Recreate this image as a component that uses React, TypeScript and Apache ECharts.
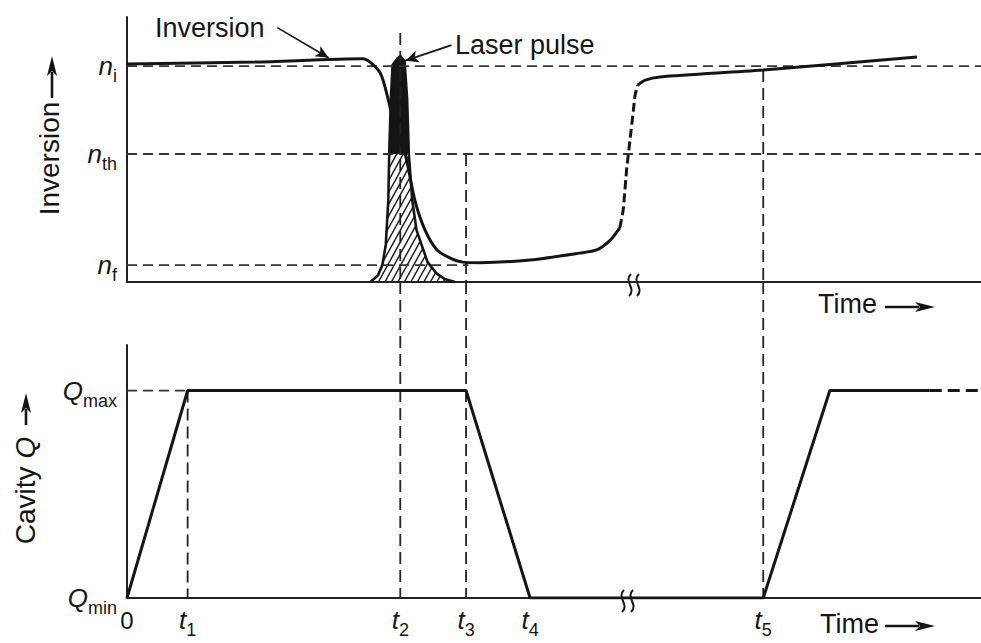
import React, { useEffect, useRef } from "react";
import * as echarts from "echarts";

// ---------------- data ----------------
// time in arbitrary units (0..100), levels in arbitrary units (0..100)
const timeTicks = [0, 7.1, 32.0, 39.7, 47.2, 74.5];
const timeTickLabels = ["0", "t|1", "t|2", "t|3", "t|4", "t|5"];

const nI = 81.5;
const nTh = 48.3;
const nF = 6.4;
const inversionLevels = [nI, nTh, nF];
const inversionLevelLabels = ["n|i", "n|th", "n|f"];

const qMin = 0;
const qMax = 82;
const qLevels = [qMin, qMax];
const qLevelLabels = ["Q|min", "Q|max"];

// inversion curve: solid part before the break
const invX1 = [0, 15, 27.6, 29.6, 30.6, 31.4, 32.6, 33.7, 34.9, 36.3, 37.8, 39.3, 41.3, 47.2, 53.0, 55.0, 56.6, 57.7];
const invY1 = [82.3, 83.0, 84.2, 79.2, 68.7, 57.4, 47.9, 30.9, 19.6, 12.1, 9.1, 7.5, 7.3, 8.3, 10.9, 12.1, 15.8, 20.4];
// inversion curve: dashed steep recovery
const invX2 = [57.7, 58.1, 58.5, 58.9, 59.3, 59.5, 59.8];
const invY2 = [20.4, 27.2, 42.3, 53.6, 64.9, 70.6, 74.3];
// inversion curve: solid after recovery
const invX3 = [59.8, 60.7, 62.4, 74.5, 92.5];
const invY3 = [74.3, 76.2, 77.4, 80.0, 84.9];

// laser pulse
const pulseX = [28.5, 29.4, 29.9, 30.3, 30.6, 30.7, 30.9, 31.1, 31.7, 32.0, 32.5, 32.8, 33.0, 33.4, 33.9, 34.7, 35.2, 36.2, 37.2, 38.4];
const pulseY = [0, 2.6, 6.4, 14.0, 30.9, 48.3, 69.1, 81.9, 84.5, 85.3, 83.4, 69.1, 48.3, 30.9, 19.6, 12.1, 7.5, 3.4, 1.1, 0];

// cavity Q
const qX = [0, 7.1, 39.7, 47.2, 74.5, 82.3, 94.0];
const qY = [0, 82, 82, 0, 0, 82, 82];
const qDashX = [94.0, 100];
const qDashY = [82, 82];

// vertical guides: time, upper start in the top panel (NaN = none)
const guideX = [7.1, 32.0, 39.7, 74.5];
const guideTopStart = [NaN, 94, nTh, 80];
const guideBottomStart = [qMax, NaN, NaN, NaN]; // NaN = runs up through the gap

// ---------------- layout ----------------
const W = 981;
const H = 643;
const G1 = { left: 127, top: 17, width: 854, height: 265 };
const G2 = { left: 127, top: 345, width: 854, height: 253 };
const X_MAX = 100;
const Y_MAX = 100;
const FONT = "'Liberation Sans', Arial, Helvetica, sans-serif";
const INK = "#151515";

const gapTopY2 = Y_MAX * (1 + (G2.top - (G1.top + G1.height)) / G2.height);

const zipPts = (xs: number[], ys: number[]) => xs.map((x, i) => [x, ys[i]]);

const richLabel = {
  b: { fontFamily: FONT, fontSize: 26, fontStyle: "italic", color: INK, verticalAlign: "middle", lineHeight: 38 },
  s: { fontFamily: FONT, fontSize: 18, color: INK, verticalAlign: "bottom", lineHeight: 38 },
  z: { fontFamily: FONT, fontSize: 24, color: INK, verticalAlign: "middle", lineHeight: 38 },
};

function labelFor(values: number[], labels: string[]) {
  return (v: number) => {
    let best = 0;
    values.forEach((val, i) => {
      if (Math.abs(val - v) < Math.abs(values[best] - v)) best = i;
    });
    const lab = labels[best];
    if (lab.indexOf("|") < 0) return `{z|${lab}}`;
    const [a, b] = lab.split("|");
    return `{b|${a}}{s|${b}}`;
  };
}

function upperPart(xs: number[], ys: number[], level: number) {
  const pts: number[][] = [];
  for (let i = 0; i < xs.length; i++) {
    if (ys[i] >= level) pts.push([xs[i], ys[i]]);
    if (i < xs.length - 1) {
      const y0 = ys[i], y1 = ys[i + 1];
      if ((y0 - level) * (y1 - level) < 0) {
        const t = (level - y0) / (y1 - y0);
        pts.push([xs[i] + t * (xs[i + 1] - xs[i]), level]);
      }
    }
  }
  return pts;
}

const dashed = (color = "#333", width = 1.8, dash = [10, 6]) => ({ color, width, type: dash as any });

// arrow drawn as a line with a filled head; (x,y) is the tail
function arrowGraphic(x: number, y: number, len: number, dir: "right" | "up") {
  const head = 20;
  const half = 5;
  if (dir === "right") {
    return [
      { type: "line", shape: { x1: x, y1: y, x2: x + len - head + 4, y2: y }, style: { stroke: INK, lineWidth: 2.6 } },
      {
        type: "polygon",
        shape: { points: [[x + len - head, y - half], [x + len, y], [x + len - head, y + half], [x + len - head + 5, y]] },
        style: { fill: INK },
      },
    ];
  }
  return [
    { type: "line", shape: { x1: x, y1: y, x2: x, y2: y - len + head - 4 }, style: { stroke: INK, lineWidth: 2.6 } },
    {
      type: "polygon",
      shape: { points: [[x - half, y - len + head], [x, y - len], [x + half, y - len + head], [x, y - len + head - 5]] },
      style: { fill: INK },
    },
  ];
}

// axis break mark: wavy S-stroke centred at (x, y)
function breakMark(x: number, y: number, h: number) {
  return {
    type: "bezierCurve",
    shape: {
      x1: x + 1, y1: y - h / 2,
      cpx1: x - 7, cpy1: y - h / 6,
      cpx2: x + 7, cpy2: y + h / 6,
      x2: x - 1, y2: y + h / 2,
    },
    style: { stroke: INK, lineWidth: 2, fill: null },
  };
}

export default function App() {
  const ref = useRef<HTMLDivElement>(null);

  useEffect(() => {
    if (!ref.current) return;
    const chart = echarts.init(ref.current, undefined, { renderer: "svg" });

    const lineSeries = (data: number[][], grid: number, style: any, extra: any = {}) => ({
      type: "line",
      xAxisIndex: grid,
      yAxisIndex: grid,
      data,
      showSymbol: false,
      symbol: "none",
      silent: true,
      lineStyle: style,
      ...extra,
    });

    const series: any[] = [];

    // reference levels (top)
    series.push(lineSeries([[0, nI], [X_MAX, nI]], 0, dashed()));
    series.push(lineSeries([[0, nTh], [X_MAX, nTh]], 0, dashed()));
    series.push(lineSeries([[0, nF], [40, nF]], 0, dashed()));
    // Q max reference (bottom)
    series.push(lineSeries([[0, qMax], [timeTicks[1], qMax]], 1, dashed()));

    // vertical guides
    guideX.forEach((x, i) => {
      if (!isNaN(guideTopStart[i])) {
        series.push(lineSeries([[x, guideTopStart[i]], [x, 0]], 0, dashed("#222", 1.8, [12, 6])));
      }
      const b = isNaN(guideBottomStart[i]) ? gapTopY2 : guideBottomStart[i];
      series.push(lineSeries([[x, b], [x, 0]], 1, dashed("#222", 1.8, [12, 6]), { clip: false }));
    });

    // laser pulse
    series.push({
      type: "custom",
      xAxisIndex: 0,
      yAxisIndex: 0,
      silent: true,
      clip: false,
      data: [[pulseX[9], pulseY[9]]],
      z: 3,
      renderItem: (_p: any, api: any) => {
        const pts = pulseX.map((x, i) => api.coord([x, pulseY[i]]));
        const up = upperPart(pulseX, pulseY, nTh).map((p) => api.coord(p));
        const xs = pts.map((p: number[]) => p[0]);
        const ys = pts.map((p: number[]) => p[1]);
        const minX = Math.min(...xs), maxX = Math.max(...xs);
        const minY = Math.min(...ys), maxY = Math.max(...ys);
        const h = maxY - minY;
        const hatch: any[] = [];
        for (let k = minX - h; k < maxX + 6; k += 6.5) {
          hatch.push({
            type: "line",
            shape: { x1: k, y1: maxY, x2: k + h * 0.55, y2: minY },
            style: { stroke: INK, lineWidth: 1.4 },
          });
        }
        return {
          type: "group",
          children: [
            { type: "group", children: hatch, clipPath: { type: "polygon", shape: { points: pts } } },
            { type: "polygon", shape: { points: up }, style: { fill: INK } },
            { type: "polyline", shape: { points: pts }, style: { stroke: INK, lineWidth: 2.6, fill: null } },
          ],
        };
      },
    });

    // inversion curve
    series.push(
      lineSeries(zipPts(invX1, invY1), 0, { color: INK, width: 3 }, {
        smooth: 0.25,
        z: 4,
        markLine: {
          silent: true,
          symbol: ["none", "arrow"],
          symbolSize: [9, 13],
          label: { show: false },
          lineStyle: { color: INK, width: 1.6, type: "solid", curveness: -0.25 },
          data: [[{ coord: [17.6, 96.0] }, { coord: [23.6, 84.6] }]],
        },
      })
    );
    series.push(lineSeries(zipPts(invX2, invY2), 0, { color: INK, width: 3, type: [9, 4] }, { smooth: 0.2, z: 4 }));
    series.push(
      lineSeries(zipPts(invX3, invY3), 0, { color: INK, width: 3 }, {
        smooth: 0.3,
        z: 4,
        markLine: {
          silent: true,
          symbol: ["none", "arrow"],
          symbolSize: [9, 13],
          label: { show: false },
          lineStyle: { color: INK, width: 1.8, type: "solid", curveness: 0.1 },
          data: [[{ coord: [38.0, 89.4] }, { coord: [32.6, 83.5] }]],
        },
      })
    );

    // cavity Q
    series.push(lineSeries(zipPts(qX, qY), 1, { color: INK, width: 3 }, { z: 4 }));
    series.push(lineSeries(zipPts(qDashX, qDashY), 1, { color: INK, width: 3, type: [12, 6] }, { z: 4 }));

    const axisLine = { show: true, onZero: false, lineStyle: { color: "#222", width: 2 } };
    const bigText = (text: string, x: number, y: number, extra: any = {}) => ({
      type: "text",
      x,
      y,
      style: { text, font: `27px ${FONT}`, fill: INK, align: "left", verticalAlign: "middle", ...extra },
    });

    chart.setOption({
      animation: false,
      backgroundColor: "#ffffff",
      textStyle: { fontFamily: FONT },
      grid: [
        { ...G1, outerBoundsMode: "none", containLabel: false },
        { ...G2, outerBoundsMode: "none", containLabel: false },
      ],
      xAxis: [
        {
          type: "value", gridIndex: 0, min: 0, max: X_MAX,
          axisLine, axisTick: { show: false }, axisLabel: { show: false }, splitLine: { show: false },
        },
        {
          type: "value", gridIndex: 1, min: 0, max: X_MAX,
          axisLine, axisTick: { show: false }, splitLine: { show: false },
          axisLabel: {
            show: true, customValues: timeTicks, margin: 3,
            formatter: labelFor(timeTicks, timeTickLabels), rich: richLabel,
          },
        },
      ],
      yAxis: [
        {
          type: "value", gridIndex: 0, min: 0, max: Y_MAX,
          axisLine, axisTick: { show: false }, splitLine: { show: false },
          axisLabel: {
            show: true, customValues: inversionLevels, margin: 10,
            formatter: labelFor(inversionLevels, inversionLevelLabels), rich: richLabel,
          },
          name: "Inversion",
          nameLocation: "middle",
          nameRotate: 90,
          nameGap: 64,
          nameTextStyle: { fontFamily: FONT, fontSize: 28, color: INK, padding: [0, 18, 0, 0] },
        },
        {
          type: "value", gridIndex: 1, min: 0, max: Y_MAX,
          axisLine, axisTick: { show: false }, splitLine: { show: false },
          axisLabel: {
            show: true, customValues: qLevels, margin: 10,
            formatter: labelFor(qLevels, qLevelLabels), rich: richLabel,
          },
          name: "Cavity {q|Q}",
          nameLocation: "middle",
          nameRotate: 90,
          nameGap: 88,
          nameTextStyle: {
            fontFamily: FONT, fontSize: 28, color: INK, padding: [0, 38, 0, 0],
            rich: { q: { fontFamily: FONT, fontSize: 28, fontStyle: "italic", color: INK } },
          },
        },
      ],
      graphic: [
        bigText("Inversion", 155, 28),
        bigText("Laser pulse", 455, 45),
        bigText("Time", 818, 304),
        ...arrowGraphic(885, 307, 50, "right"),
        bigText("Time", 820, 624),
        ...arrowGraphic(885, 626, 50, "right"),
        ...arrowGraphic(52, 98, 42, "up"),
        ...arrowGraphic(26, 425, 32, "up"),
        breakMark(630, 285, 22),
        breakMark(638, 285, 22),
        breakMark(623, 601, 22),
        breakMark(632, 601, 22),
      ],
      series,
    });

    return () => chart.dispose();
  }, []);

  return (
    <div
      ref={ref}
      style={{ position: "fixed", left: 0, top: 0, width: W, height: H, background: "#fff" }}
    />
  );
}
